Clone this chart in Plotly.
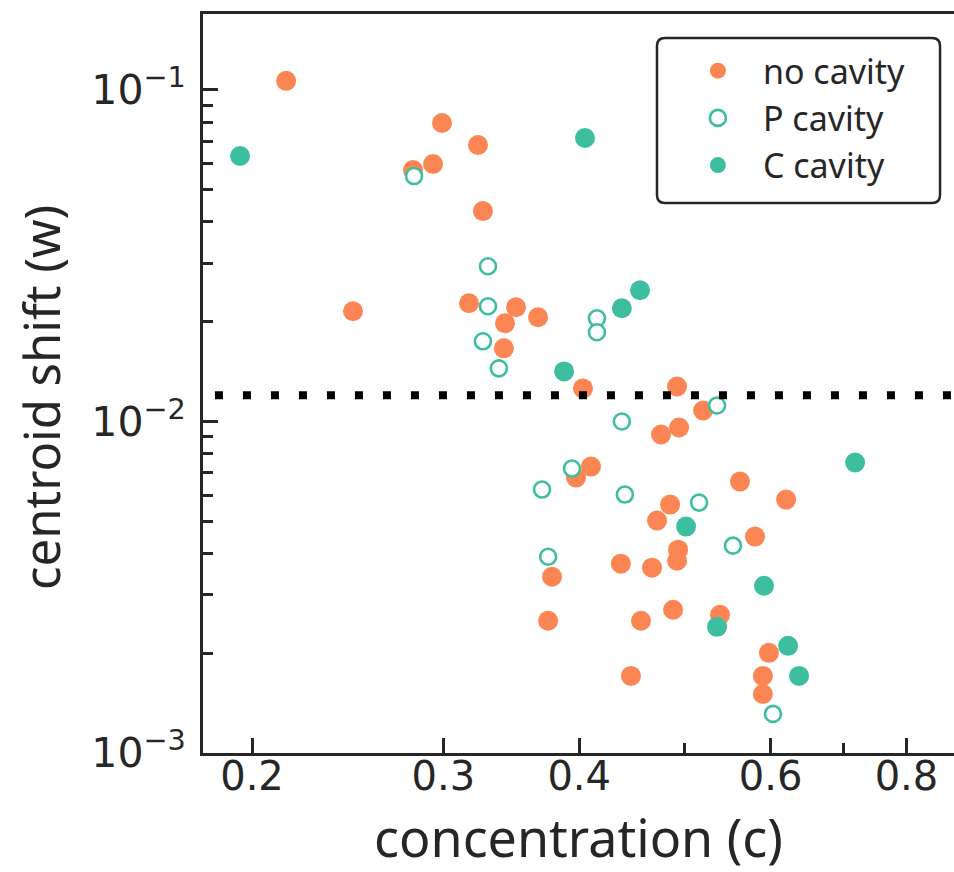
import plotly.graph_objects as go

# ---------------- data ----------------
no_cavity_c = [0.2150, 0.2991, 0.3228, 0.2935, 0.2813, 0.3262, 0.2477, 0.3167, 0.3499,
               0.3418, 0.3666, 0.3410, 0.4032, 0.4921, 0.5200, 0.4757, 0.4942, 0.4101,
               0.3973, 0.5623, 0.6200, 0.4849, 0.4717, 0.5804, 0.4932, 0.4921, 0.3776,
               0.4369, 0.4667, 0.3745, 0.4559, 0.4880, 0.5390, 0.5978, 0.5902, 0.4463,
               0.5902]
no_cavity_w = [0.1065, 0.07949, 0.06821, 0.05976, 0.05732, 0.04310, 0.02150, 0.02273,
               0.02211, 0.01978, 0.02062, 0.01662, 0.01258, 0.01275, 0.01079, 0.009135,
               0.009592, 0.007311, 0.006773, 0.006587, 0.005813, 0.005613, 0.005023,
               0.004495, 0.004105, 0.003802, 0.003401, 0.003724, 0.003622, 0.002505,
               0.002505, 0.002704, 0.002611, 0.002005, 0.001708, 0.001708, 0.001507]

p_cavity_c = [0.2819, 0.3297, 0.3297, 0.3262, 0.3374, 0.4153, 0.4153, 0.4378, 0.5356,
              0.3939, 0.3697, 0.4406, 0.5156, 0.5540, 0.3745, 0.6030]
p_cavity_w = [0.05498, 0.02939, 0.02226, 0.01745, 0.01446, 0.02048, 0.01858, 0.01000,
              0.01117, 0.007211, 0.006231, 0.006019, 0.005692, 0.004221, 0.003909,
              0.001312]

c_cavity_c = [0.1950, 0.4049, 0.3874, 0.4378, 0.4550, 0.7176, 0.5016, 0.5916, 0.5356,
              0.6226, 0.6372]
c_cavity_w = [0.06319, 0.07161, 0.01416, 0.02196, 0.02487, 0.007518, 0.004818,
              0.003195, 0.002402, 0.002105, 0.001708]

threshold_w = 0.012
threshold_c = [0.1849, 0.95]

x_major = [0.2, 0.3, 0.4, 0.6, 0.8]
x_major_text = ["0.2", "0.3", "0.4", "0.6", "0.8"]
x_minor = [0.5, 0.7]
y_major = [0.001, 0.01, 0.1]
y_major_text = ["10<sup>\u22123</sup>", "10<sup>\u22122</sup>", "10<sup>\u22121</sup>"]
y_minor = [k * 1e-3 for k in range(2, 10)] + [k * 1e-2 for k in range(2, 10)]

# ---------------- style ----------------
ORANGE = "#fc8653"
TEAL = "#3dbf9f"
INK = "#262626"
LABEL_FONT = "Noto Sans"
TICK_FONT = "DejaVu Sans"

fig = go.Figure()
fig.add_trace(go.Scatter(
    x=no_cavity_c, y=no_cavity_w, mode="markers", name="no cavity",
    marker=dict(size=20, color=ORANGE, line=dict(width=0)),
))
fig.add_trace(go.Scatter(
    x=p_cavity_c, y=p_cavity_w, mode="markers", name="P cavity",
    marker=dict(size=16, color="white", line=dict(width=2.6, color=TEAL)),
))
fig.add_trace(go.Scatter(
    x=c_cavity_c, y=c_cavity_w, mode="markers", name="C cavity",
    marker=dict(size=20, color=TEAL, line=dict(width=0)),
))
fig.add_trace(go.Scatter(
    x=threshold_c, y=[threshold_w, threshold_w], mode="lines", showlegend=False,
    line=dict(color="black", width=8, dash="8px,20px"), hoverinfo="skip",
))

# legend box with rounded corners (paper coordinates)
bx0, bx1, by0, by1 = 0.6045, 0.9814, 0.7442, 0.9675
rx, ry = 0.0107, 0.0108
path = (f"M {bx0+rx},{by1} L {bx1-rx},{by1} Q {bx1},{by1} {bx1},{by1-ry} "
        f"L {bx1},{by0+ry} Q {bx1},{by0} {bx1-rx},{by0} "
        f"L {bx0+rx},{by0} Q {bx0},{by0} {bx0},{by0+ry} "
        f"L {bx0},{by1-ry} Q {bx0},{by1} {bx0+rx},{by1} Z")
fig.add_shape(type="path", path=path, xref="paper", yref="paper",
              line=dict(color=INK, width=2.5), fillcolor="white", layer="above")

# y-axis label (as an annotation so it can sit where the reference has it)
fig.add_annotation(
    text="centroid shift (w)", textangle=-90, showarrow=False,
    xref="paper", yref="paper", x=-0.2157, y=0.4804,
    xanchor="center", yanchor="middle",
    font=dict(family=LABEL_FONT, size=49, color=INK),
)

fig.update_layout(
    width=954, height=872,
    margin=dict(l=203, r=0, t=14, b=119),
    paper_bgcolor="white", plot_bgcolor="white",
    showlegend=True,
    legend=dict(
        x=0.6257, y=0.962, xanchor="left", yanchor="top",
        bgcolor="rgba(0,0,0,0)", borderwidth=0,
        font=dict(family=LABEL_FONT, size=34, color=INK),
        itemwidth=80, itemsizing="trace",
    ),
)

fig.update_xaxes(
    type="log", range=[-0.74405, -0.05316],
    showline=True, linecolor=INK, linewidth=3, mirror=True,
    showgrid=False, zeroline=False,
    ticks="inside", ticklen=15, tickwidth=2.5, tickcolor=INK,
    tickvals=x_major, ticktext=x_major_text,
    tickfont=dict(family=TICK_FONT, size=40, color=INK),
    ticklabelstandoff=-14,
    minor=dict(tickvals=x_minor, ticks="inside", ticklen=10, tickwidth=2.5,
               tickcolor=INK, showgrid=False),
    title=dict(text="concentration (c)", standoff=34,
               font=dict(family=LABEL_FONT, size=52, color=INK)),
)
fig.update_yaxes(
    type="log", range=[-3, -0.771],
    showline=True, linecolor=INK, linewidth=3, mirror=False,
    showgrid=False, zeroline=False,
    ticks="inside", ticklen=15, tickwidth=2.5, tickcolor=INK,
    tickvals=y_major, ticktext=y_major_text,
    tickfont=dict(family=TICK_FONT, size=41, color=INK),
    ticklabelstandoff=6,
    minor=dict(tickvals=y_minor, ticks="inside", ticklen=10, tickwidth=2.5,
               tickcolor=INK, showgrid=False),
)

fig.write_html(
    "out.html",
    config={"displayModeBar": False},
    post_script="document.body.style.margin='0px';document.body.style.overflow='hidden';",
)
